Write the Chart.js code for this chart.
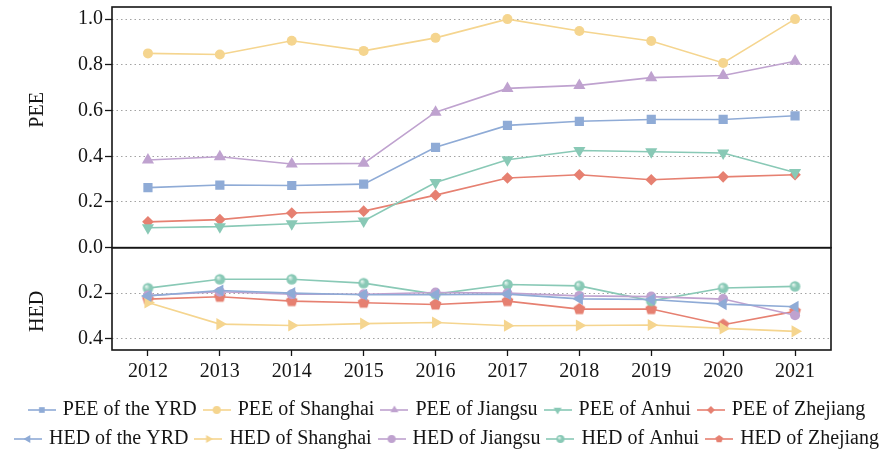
<!DOCTYPE html>
<html>
<head>
<meta charset="utf-8">
<script src="https://cdn.jsdelivr.net/npm/chart.js@4.4.1/dist/chart.umd.min.js"></script>
<style>
html, body { margin: 0; padding: 0; background: #fff; }
</style>
</head>
<body>
<canvas id="eff-chart" width="896" height="459"></canvas>
<script>
// PEE (upper panel) and HED (lower panel, reversed axis) of the YRD, 2012-2021

const years = ['2012', '2013', '2014', '2015', '2016', '2017', '2018', '2019', '2020', '2021'];

const peeYRD      = [0.263, 0.274, 0.272, 0.278, 0.439, 0.535, 0.553, 0.561, 0.561, 0.577];
const peeShanghai = [0.850, 0.845, 0.905, 0.861, 0.918, 1.000, 0.948, 0.904, 0.808, 1.000];
const peeJiangsu  = [0.384, 0.398, 0.366, 0.369, 0.593, 0.697, 0.710, 0.744, 0.753, 0.816];
const peeAnhui    = [0.087, 0.092, 0.105, 0.117, 0.285, 0.385, 0.425, 0.420, 0.414, 0.329];
const peeZhejiang = [0.113, 0.123, 0.152, 0.160, 0.230, 0.305, 0.319, 0.297, 0.310, 0.319];

const hedYRD      = [0.212, 0.188, 0.200, 0.207, 0.207, 0.204, 0.225, 0.228, 0.248, 0.260];
const hedShanghai = [0.241, 0.336, 0.342, 0.334, 0.329, 0.343, 0.342, 0.340, 0.355, 0.368];
const hedJiangsu  = [0.210, 0.194, 0.205, 0.205, 0.197, 0.200, 0.212, 0.215, 0.226, 0.297];
const hedAnhui    = [0.178, 0.139, 0.139, 0.156, 0.204, 0.162, 0.168, 0.234, 0.177, 0.170];
const hedZhejiang = [0.226, 0.216, 0.235, 0.242, 0.250, 0.235, 0.270, 0.270, 0.339, 0.280];

const peeTicks = [0, 0.2, 0.4, 0.6, 0.8, 1.0];
const hedTicks = [0.2, 0.4];

const BLUE   = 'rgb(143,171,214)';
const YELLOW = 'rgb(245,213,143)';
const PURPLE = 'rgb(191,162,207)';
const GREEN  = 'rgb(137,201,182)';
const RED    = 'rgb(230,128,113)';
const SERIF  = "'Liberation Serif', 'Times New Roman', serif";

// small shapes for markers that chart.js has no style for, and for legend icons
function drawShape(g, kind, x, y, r, color, rot) {
    g.fillStyle = color;
    g.beginPath();
    if (kind === 'rect') {
        const h = r * Math.SQRT1_2;
        g.rect(x - h, y - h, 2 * h, 2 * h);
    } else if (kind === 'circle') {
        g.arc(x, y, r, 0, Math.PI * 2);
    } else if (kind === 'rectRot') {
        g.moveTo(x, y - r); g.lineTo(x + r, y); g.lineTo(x, y + r); g.lineTo(x - r, y);
    } else if (kind === 'triangle') {
        let a = (rot || 0) * Math.PI / 180;
        for (let i = 0; i < 3; i++) {
            const px = x + Math.sin(a) * r, py = y - Math.cos(a) * r;
            i ? g.lineTo(px, py) : g.moveTo(px, py);
            a += Math.PI * 2 / 3;
        }
    } else if (kind === 'pentagon') {
        for (let i = 0; i < 5; i++) {
            const a = -Math.PI / 2 + i * Math.PI * 2 / 5;
            const px = x + Math.cos(a) * r, py = y + Math.sin(a) * r;
            i ? g.lineTo(px, py) : g.moveTo(px, py);
        }
    } else if (kind === 'ball') {
        const grad = g.createRadialGradient(x - r * 0.35, y - r * 0.35, 0.3, x, y, r);
        grad.addColorStop(0, 'rgb(232,246,240)');
        grad.addColorStop(0.5, color);
        grad.addColorStop(1, color);
        g.fillStyle = grad;
        g.arc(x, y, r, 0, Math.PI * 2);
    }
    g.closePath();
    g.fill();
}

function shapeImage(kind, color, r) {
    const c = document.createElement('canvas');
    const s = Math.ceil(r * 2 + 2);
    c.width = s; c.height = s;
    drawShape(c.getContext('2d'), kind, s / 2, s / 2, r, color, 0);
    return c;
}

function legendIcon(kind, color, rot) {
    const c = document.createElement('canvas');
    c.width = 28; c.height = 14;
    const g = c.getContext('2d');
    g.strokeStyle = color;
    g.lineWidth = 1.6;
    g.beginPath(); g.moveTo(0, 7); g.lineTo(28, 7); g.stroke();
    drawShape(g, kind, 14, 7, kind === 'triangle' ? 4.6 : 4, color, rot);
    return c;
}

const styles = [
    { kind: 'rect', ps: 'rect', r: 6.5 },
    { kind: 'circle', ps: 'circle', r: 5 },
    { kind: 'triangle', ps: 'triangle', r: 7 },
    { kind: 'triangle', ps: 'triangle', r: 7, rot: 180 },
    { kind: 'rectRot', ps: 'rectRot', r: 5.8 },
    { kind: 'triangle', ps: 'triangle', r: 7, rot: 270 },
    { kind: 'triangle', ps: 'triangle', r: 7, rot: 90 },
    { kind: 'circle', ps: 'circle', r: 5 },
    { kind: 'ball', ps: shapeImage('ball', GREEN, 5.3), r: 5 },
    { kind: 'pentagon', ps: shapeImage('pentagon', RED, 6.2), r: 6 },
];

function series(label, data, color, axis, st) {
    return {
        label: label,
        data: data,
        yAxisID: axis,
        borderColor: color,
        backgroundColor: color,
        borderWidth: 1.6,
        tension: 0,
        pointStyle: st.ps,
        pointRotation: st.rot || 0,
        pointRadius: st.r,
        pointHoverRadius: st.r,
        pointBorderWidth: 0,
        legendIcon: legendIcon(st.kind, color, st.rot || 0),
    };
}

const datasets = [
    series('PEE of the YRD', peeYRD, BLUE, 'yP', styles[0]),
    series('PEE of Shanghai', peeShanghai, YELLOW, 'yP', styles[1]),
    series('PEE of Jiangsu', peeJiangsu, PURPLE, 'yP', styles[2]),
    series('PEE of Anhui', peeAnhui, GREEN, 'yP', styles[3]),
    series('PEE of Zhejiang', peeZhejiang, RED, 'yP', styles[4]),
    series('HED of the YRD', hedYRD, BLUE, 'yH', styles[5]),
    series('HED of Shanghai', hedShanghai, YELLOW, 'yH', styles[6]),
    series('HED of Jiangsu', hedJiangsu, PURPLE, 'yH', styles[7]),
    series('HED of Anhui', hedAnhui, GREEN, 'yH', styles[8]),
    series('HED of Zhejiang', hedZhejiang, RED, 'yH', styles[9]),
];

// frame round each of the two panels
const panelFrame = {
    id: 'panelFrame',
    afterDraw(chart) {
        const { ctx, chartArea: a, scales } = chart;
        ctx.save();
        ctx.strokeStyle = '#151515';
        ctx.lineWidth = 1.6;
        ctx.strokeRect(a.left, scales.yP.top, a.right - a.left, scales.yP.bottom - scales.yP.top);
        ctx.strokeRect(a.left, scales.yH.top, a.right - a.left, scales.yH.bottom - scales.yH.top);
        ctx.restore();
    }
};

const yGrid = {
    color: '#a3a3a3',
    lineWidth: 1,
    drawTicks: true,
    tickLength: 7,
    tickColor: '#151515',
    tickWidth: 1.3,
};

function fitY(s) {
    s.width = 112;
    s.paddingTop = 0;
    s.paddingBottom = 0;
}

const EFF_Chart = document.getElementById('eff-chart');

const effChart = new Chart(EFF_Chart, {
    type: 'line',
    data: {
        labels: years,
        datasets: datasets,
    },
    plugins: [panelFrame],
    options: {
        responsive: false,
        animation: false,
        layout: { padding: { left: 0, right: 0, top: 7, bottom: 0 } },
        scales: {
            x: {
                type: 'category',
                offset: true,
                grid: { display: true, offset: false, drawOnChartArea: false, drawTicks: true, tickLength: 6, tickColor: '#151515', tickWidth: 1.3 },
                border: { display: false },
                ticks: { color: '#151515', font: { family: SERIF, size: 20 }, padding: 4, maxRotation: 0 },
                afterFit: s => { s.height = 41; },
            },
            yH: {
                type: 'linear',
                position: 'left',
                stack: 'panels',
                stackWeight: 102,
                reverse: true,
                min: 0,
                max: 0.45,
                afterBuildTicks: s => { s.ticks = hedTicks.map(v => ({ value: v })); },
                grid: yGrid,
                border: { display: false, dash: [1.5, 3] },
                ticks: { color: '#151515', font: { family: SERIF, size: 20 }, padding: 2, callback: v => v.toFixed(1) },
                title: { display: true, text: 'HED     ', color: '#151515', font: { family: SERIF, size: 20 }, padding: { top: 26, bottom: 0 } },
                afterFit: fitY,
            },
            yP: {
                type: 'linear',
                position: 'left',
                stack: 'panels',
                stackWeight: 240,
                min: 0,
                max: 1.053,
                afterBuildTicks: s => { s.ticks = peeTicks.map(v => ({ value: v })); },
                grid: yGrid,
                border: { display: false, dash: [1.5, 3] },
                ticks: { color: '#151515', font: { family: SERIF, size: 20 }, padding: 2, callback: v => v.toFixed(1) },
                title: { display: true, text: '       PEE', color: '#151515', font: { family: SERIF, size: 20 }, padding: { top: 26, bottom: 0 } },
                afterFit: fitY,
            },
            // empty right gutter
            yR: {
                type: 'linear',
                position: 'right',
                min: 0,
                max: 1,
                grid: { display: false },
                border: { display: false },
                ticks: { display: false },
                afterFit: s => { s.width = 65; s.paddingTop = 0; s.paddingBottom = 0; },
            },
        },
        plugins: {
            tooltip: { enabled: false },
            legend: {
                position: 'bottom',
                labels: {
                    usePointStyle: true,
                    pointStyleWidth: 22,
                    boxHeight: 14,
                    padding: 9,
                    color: '#151515',
                    font: { family: SERIF, size: 20, lineHeight: 0.9 },
                    generateLabels(chart) {
                        return Chart.defaults.plugins.legend.labels.generateLabels(chart).map(item => {
                            item.pointStyle = chart.data.datasets[item.datasetIndex].legendIcon;
                            item.rotation = 0;
                            return item;
                        });
                    },
                },
            },
        },
    },
});
</script>
</body>
</html>
